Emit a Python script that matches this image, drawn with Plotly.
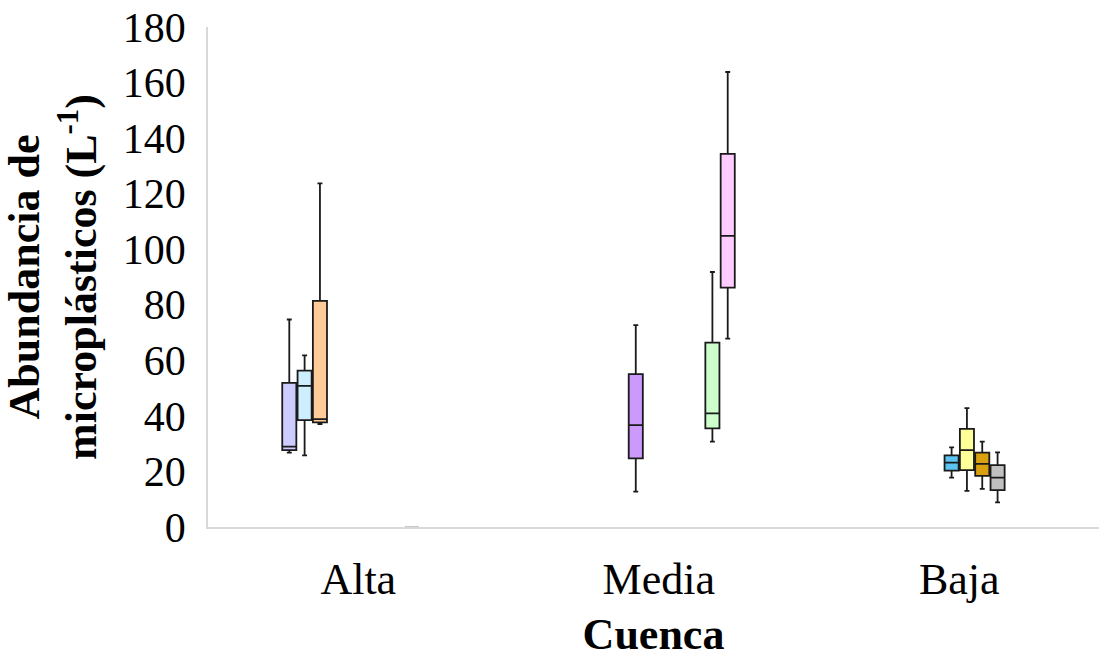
import plotly.graph_objects as go

categories = ["Alta", "Media", "Baja"]
y_ticks = [0, 20, 40, 60, 80, 100, 120, 140, 160, 180]

# series slots (one box position per slot inside each category group)
slots = ["S1", "S2", "S3", "S4", "S5", "S6", "S7", "S8", "S9", "S10"]

# Each box: series slot, category, lower fence, q1, median, q3, upper fence, fill colour
box_slot = ["S1", "S2", "S3", "S4", "S5", "S6", "S7", "S8", "S9", "S9", "S10"]
box_cat = ["Alta", "Alta", "Alta", "Media", "Baja", "Baja", "Baja", "Baja", "Media", "Alta", "Media"]
lowerfence = [26.8, 25.8, 37.0, 12.7, 17.8, 13.0, 13.7, 8.9, 30.7, 0.0, 67.8]
q1 = [27.7, 38.5, 37.7, 24.7, 20.3, 20.5, 18.4, 13.3, 35.5, 0.0, 86.2]
median = [28.9, 50.8, 38.8, 36.7, 23.2, 27.7, 22.7, 17.8, 40.9, 0.0, 104.8]
q3 = [51.9, 56.3, 81.4, 55.0, 25.8, 35.3, 26.8, 22.3, 66.4, 0.0, 134.3]
upperfence = [74.7, 61.8, 123.7, 72.7, 28.7, 42.8, 30.7, 26.9, 91.8, 0.0, 163.8]
fills = ["#ccccff", "#cceeff", "#ffcc99", "#cc99ff", "#5bc4f2", "#ffff99", "#d9a010",
         "#c0c0c0", "#ccffcc", "#bfbfbf", "#ffccff"]
lines = ["#1a1a1a"] * 9 + ["#c8c8c8"] + ["#1a1a1a"]

fig = go.Figure()
for i in range(len(box_cat)):
    fig.add_trace(go.Box(
        x=[box_cat[i]], q1=[q1[i]], median=[median[i]], q3=[q3[i]],
        lowerfence=[lowerfence[i]], upperfence=[upperfence[i]],
        offsetgroup=box_slot[i], name=box_slot[i],
        fillcolor=fills[i], line=dict(color=lines[i], width=1.8),
        whiskerwidth=0.35, boxpoints=False, showlegend=False,
    ))

fig.update_layout(
    width=1099, height=659,
    margin=dict(l=208, r=0, t=27, b=132),
    paper_bgcolor="white", plot_bgcolor="white",
    boxmode="group", boxgap=0.49, boxgroupgap=0.08,
    showlegend=False,
    font=dict(family="Liberation Serif", color="black"),
)
fig.update_xaxes(
    categoryorder="array", categoryarray=categories, range=[-0.5, 2.465],
    showline=True, linecolor="#d9d9d9", linewidth=1.5, showgrid=False,
    ticks="", ticklabelstandoff=12, tickfont=dict(size=44, family="Liberation Serif"),
    title=dict(text="<b>Cuenca</b>", font=dict(size=44, family="Liberation Serif"), standoff=22),
)
fig.update_yaxes(
    range=[0, 180], tickvals=y_ticks, showgrid=False, zeroline=False,
    showline=True, linecolor="#d9d9d9", linewidth=1.5, ticks="",
    ticklabelstandoff=12,
    tickfont=dict(size=42, family="Liberation Serif"),
    title=dict(text="<b>Abundancia de<br>microplásticos (L<sup>-1</sup>)</b>",
               font=dict(size=44, family="Liberation Serif"), standoff=14),
)

fig.write_html("out.html")
